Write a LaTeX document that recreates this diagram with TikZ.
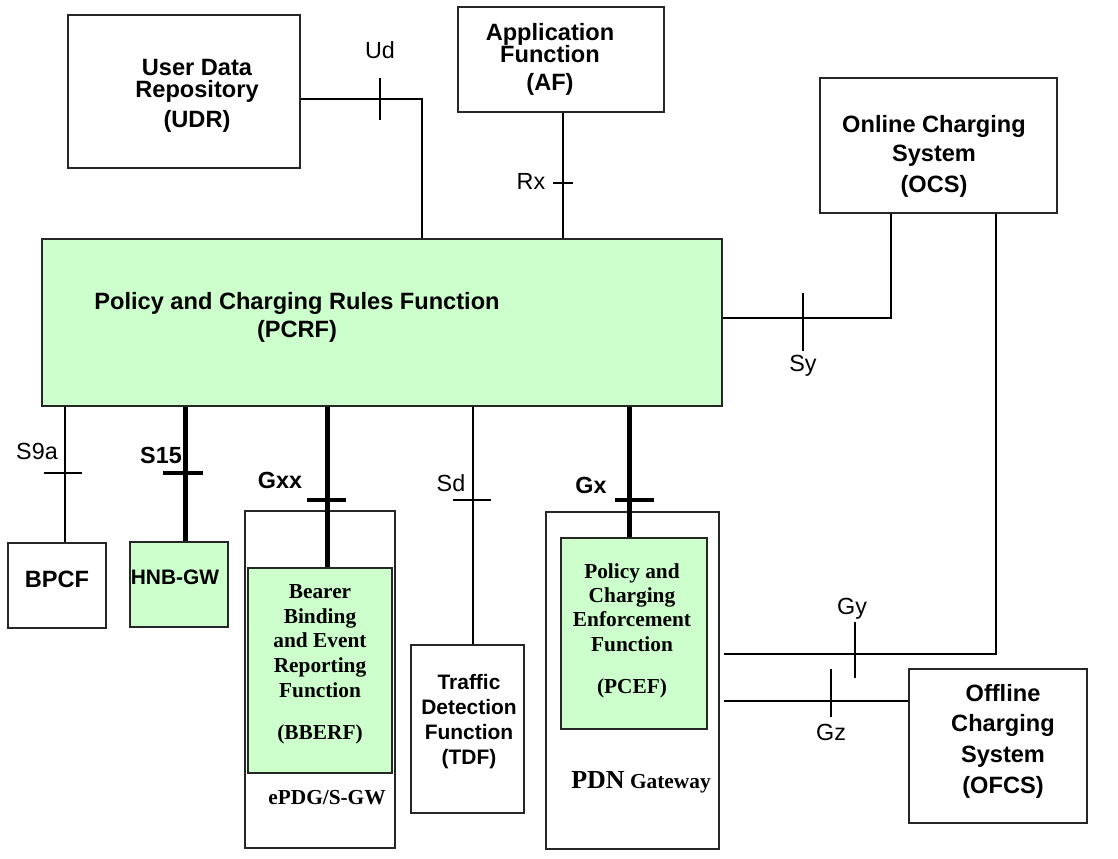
\documentclass[tikz,border=0pt]{standalone}
\usepackage{fontspec}
\setmainfont{Liberation Sans}
\newfontfamily\timesfont{Liberation Serif}
\usetikzlibrary{fit,calc}

\definecolor{pcrfgreen}{HTML}{CCFFCC}

\tikzset{
  box/.style={draw=black!85, line width=1pt, inner sep=0pt},
  greenbox/.style={box, fill=pcrfgreen},
  link/.style={line width=1pt},
  heavy/.style={line width=3.75pt},
  heavytick/.style={line width=2.6pt},
  sansbold/.style={align=center, inner sep=0pt, font=\bfseries\fontsize{17.7}{#1}\selectfont},
  sansbold/.default=21,
  smallsans/.style={align=center, inner sep=0pt, font=\bfseries\fontsize{15.7}{#1}\selectfont},
  smallsans/.default=18.75,
  serifbold/.style={align=center, inner sep=0pt, font=\timesfont\bfseries\fontsize{16}{#1}\selectfont},
  serifbold/.default=18.5,
  iface/.style={inner sep=0pt, font=\fontsize{17.5}{20}\selectfont},
  ifacebold/.style={inner sep=0pt, font=\bfseries\fontsize{17.5}{20}\selectfont}
}

\begin{document}
\begin{tikzpicture}[x=0.75pt,y=0.75pt,yscale=-1,xscale=1]
        \useasboundingbox (0,0) rectangle (1118,859);

        % Boxes
        \node[box, fit={(68,15) (300,168)}] (udr) {};
        \node[box, fit={(458,7) (664,112)}] (af) {};
        \node[box, fit={(820,78) (1057,213)}] (ocs) {};
        \node[greenbox, fit={(42,239) (722,406)}] (pcrf) {};
        \node[box, fit={(8,543) (106,628)}] (bpcf) {};
        \node[greenbox, fit={(130,542) (228,627)}] (hnbgw) {};
        \node[box, fit={(245,511) (395,848)}] (epdg) {};
        \node[greenbox, line width=1.6pt, fit={(248,568) (392,773)}] (bberf) {};
        \node[box, fit={(411,645) (524,813)}] (tdf) {};
        \node[box, fit={(546,512) (719,849)}] (pdngw) {};
        \node[greenbox, line width=1.6pt, fit={(561,538) (707,729)}] (pcef) {};
        \node[box, fit={(909,669) (1087,823)}] (ofcs) {};

        % Ud
        \coordinate (ud) at (380,99);
        \coordinate (udbend) at (422,99);
        \draw[link] (udr.east |- ud) -- (udbend) -- (udbend |- pcrf.north);
        \draw[link] (ud) ++(0,-21) -- ++(0,42);
        % Rx
        \coordinate (rx) at (563,183);
        \draw[link] (af.south -| rx) -- (pcrf.north -| rx);
        \draw[link] (rx) ++(-10,0) -- ++(20,0);
        % Sy
        \coordinate (sy) at (803,318);
        \coordinate (sybend) at (891,318);
        \draw[link] (pcrf.east |- sy) -- (sybend) -- (sybend |- ocs.south);
        \draw[link] (sy) ++(0,-25) -- ++(0,58);
        % Gy
        \coordinate (gy) at (855,654);
        \coordinate (gybend) at (996,654);
        \draw[link] ($(pdngw.east |- gy)+(4,0)$) -- (gybend) -- (gybend |- ocs.south);
        \draw[link] (gy) ++(0,-32) -- ++(0,56);
        % Gz
        \coordinate (gz) at (831,701);
        \draw[link] ($(pdngw.east |- gz)+(4,0)$) -- (ofcs.west |- gz);
        \draw[link] (gz) ++(0,-32) -- ++(0,48);
        % S9a
        \coordinate (s9a) at (65,473);
        \draw[link] (pcrf.south -| s9a) -- (bpcf.north -| s9a);
        \draw[link] (s9a) ++(-21,0) -- ++(38,0);
        % S15
        \coordinate (s15) at (185,473);
        \draw[heavy] (pcrf.south -| s15) -- (hnbgw.north -| s15);
        \draw[heavytick] (s15) ++(-22,0) -- ++(40,0);
        % Gxx
        \coordinate (gxx) at (327,500);
        \draw[heavy] (pcrf.south -| gxx) -- (bberf.north -| gxx);
        \draw[heavytick] (gxx) ++(-20,0) -- ++(39,0);
        % Sd
        \coordinate (sd) at (473,500);
        \draw[link] (pcrf.south -| sd) -- (tdf.north -| sd);
        \draw[link] (sd) ++(-20,0) -- ++(38,0);
        % Gx
        \coordinate (gx) at (629,500);
        \draw[heavy] (pcrf.south -| gx) -- (pcef.north -| gx);
        \draw[heavytick] (gx) ++(-14,0) -- ++(39,0);

        % Text Node
        \node[sansbold=16.5] (udrtext) at (197,96) {User Data\\Repository\\[6pt](UDR)};
        \node[sansbold=16.5] (aftext) at (550,59.5) {Application\\Function\\[4pt](AF)};
        \node[sansbold=21.75] (ocstext) at (934,156.5) {Online Charging\\System\\[2pt](OCS)};
        \node[sansbold=21] (pcrftext) at (297,317) {Policy and Charging Rules Function\\(PCRF)};
        \node[sansbold] (bpcftext) at (57,579) {BPCF};
        \node[smallsans] (hnbtext) at (175,577) {HNB-GW};
        \node[smallsans=18.75] (tdftext) at (469,721.5) {Traffic\\Detection\\Function\\(TDF)};
        \node[sansbold=23] (ofcstext) at (1003,741) {Offline\\Charging\\System\\(OFCS)};
        \node[serifbold=18.5] (bberftext) at (320,664) {Bearer\\Binding\\and Event\\Reporting\\Function\\[13pt](BBERF)};
        \node[serifbold] (epdgtext) at (327,798) {ePDG/S-GW};
        \node[serifbold=18.3] (pceftext) at (632,630.5) {Policy and\\Charging\\Enforcement\\Function\\[13pt](PCEF)};
        \node[serifbold] (pdntext) at (641,782) {{\fontsize{19.5}{20}\selectfont PDN} Gateway};

        % Interface labels
        \node[iface] (udlabel) at (380,50) {Ud};
        \node[iface] (rxlabel) at (531,181) {Rx};
        \node[iface] (sylabel) at (803,366) {Sy};
        \node[iface] (gylabel) at (852,609) {Gy};
        \node[iface] (gzlabel) at (831,732) {Gz};
        \node[iface] (s9alabel) at (37,451) {S9a};
        \node[ifacebold] (s15label) at (161,455) {S15};
        \node[ifacebold] (gxxlabel) at (280,480) {Gxx};
        \node[iface] (sdlabel) at (451,483) {Sd};
        \node[ifacebold] (gxlabel) at (591,485) {Gx};

    \end{tikzpicture}
\end{document}
